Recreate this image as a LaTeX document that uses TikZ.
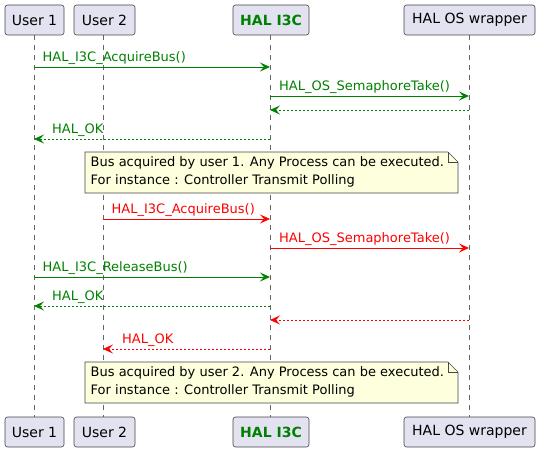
\documentclass[tikz,border=0pt]{standalone}
\usepackage{fontspec}
\setmainfont{DejaVu Sans}
\usetikzlibrary{arrows.meta}
\definecolor{pgreen}{HTML}{008000}
\definecolor{pred}{HTML}{FF0000}
\definecolor{pbox}{HTML}{E2E2F0}
\definecolor{pline}{HTML}{181818}
\definecolor{pnote}{HTML}{FEFFDD}
\begin{document}
\begin{tikzpicture}[x=1pt,y=-1pt,
  part/.style={draw=pline!80,fill=pbox,rounded corners=2.5pt,line width=0.6pt},
  ptxt/.style={font=\fontsize{14}{16}\selectfont,text=black},
  life/.style={draw=gray!80!black,dash pattern=on 5pt off 5pt,line width=0.6pt},
  msg/.style={line width=0.8pt,-{Stealth[length=10pt,width=9pt,inset=4pt]}},
  ret/.style={msg,dash pattern=on 2pt off 2pt},
  mlbl/.style={font=\fontsize{13}{15}\selectfont,anchor=base west,inner sep=0pt},
  notebox/.style={draw=pline!80,fill=pnote,line width=0.6pt},
  ntxt/.style={font=\fontsize{13}{18}\selectfont,align=left,anchor=north west,inner sep=0pt}]
\useasboundingbox (0,0) rectangle (538,452);
% lifelines
\coordinate (l1t) at (34,35);  \coordinate (l1b) at (34,417);
\coordinate (l2t) at (103,35); \coordinate (l2b) at (103,417);
\coordinate (l3t) at (270,35); \coordinate (l3b) at (270,417);
\coordinate (l4t) at (469,35); \coordinate (l4b) at (469,417);
\draw[life] (l1t) -- (l1b);
\draw[life] (l2t) -- (l2b);
\draw[life] (l3t) -- (l3b);
\draw[life] (l4t) -- (l4b);
% participants top
\draw[part] (5,5) rectangle (64,35);
\draw[part] (74,5) rectangle (135,35);
\draw[part] (233,5) rectangle (309,35);
\draw[part] (404,5) rectangle (535,35);
\node[ptxt] (u1) at (34.5,20) {User 1};
\node[ptxt] (u2) at (104.5,20) {User 2};
\node[ptxt,text=pgreen,font=\fontsize{14}{16}\selectfont\bfseries] (hi) at (271,20) {HAL I3C};
\node[ptxt] (ho) at (469.5,20) {HAL OS wrapper};
% participants bottom
\draw[part] (5,417) rectangle (64,447);
\draw[part] (74,417) rectangle (135,447);
\draw[part] (233,417) rectangle (309,447);
\draw[part] (404,417) rectangle (535,447);
\node[ptxt] (u1b) at (34.5,432) {User 1};
\node[ptxt] (u2b) at (104.5,432) {User 2};
\node[ptxt,text=pgreen,font=\fontsize{14}{16}\selectfont\bfseries] (hib) at (271,432) {HAL I3C};
\node[ptxt] (hob) at (469.5,432) {HAL OS wrapper};
% message endpoints
\foreach \n/\y in {a/67,b/96,c/110,d/139,e/219,f/248,g/277,h/306,i/320,j/349}{
  \coordinate (U1\n) at (34,\y);
  \coordinate (U2\n) at (103,\y);
  \coordinate (HI\n) at (270,\y);
  \coordinate (HO\n) at (469,\y);
}
% messages
\draw[msg,pgreen] (U1a) -- (HIa);
\node[mlbl,text=pgreen] (ma) at (42.5,61.5) {HAL\_I3C\_AcquireBus()};
\draw[msg,pgreen] (HIb) -- (HOb);
\node[mlbl,text=pgreen] (mb) at (279,90.5) {HAL\_OS\_SemaphoreTake()};
\draw[ret,pgreen] (HOc) -- (HIc);
\draw[ret,pgreen] (HId) -- (U1d);
\node[mlbl,text=pgreen] (md) at (52,133.5) {HAL\_OK};
% note 1
\draw[notebox] (85,152) -- (448,152) -- (458,162) -- (458,193) -- (85,193) -- cycle;
\draw[notebox,fill=none] (448,152) -- (448,162) -- (458,162);
\node[ntxt] (n1) at (90.5,156) {Bus acquired by user 1. Any Process can be executed.\\For instance : Controller Transmit Polling};
\draw[msg,pred] (U2e) -- (HIe);
\node[mlbl,text=pred] (me) at (111.5,213.5) {HAL\_I3C\_AcquireBus()};
\draw[msg,pred] (HIf) -- (HOf);
\node[mlbl,text=pred] (mf) at (279,242.5) {HAL\_OS\_SemaphoreTake()};
\draw[msg,pgreen] (U1g) -- (HIg);
\node[mlbl,text=pgreen] (mg) at (42.5,271.5) {HAL\_I3C\_ReleaseBus()};
\draw[ret,pgreen] (HIh) -- (U1h);
\node[mlbl,text=pgreen] (mh) at (52,300.5) {HAL\_OK};
\draw[ret,pred] (HOi) -- (HIi);
\draw[ret,pred] (HIj) -- (U2j);
\node[mlbl,text=pred] (mj) at (122,343.5) {HAL\_OK};
% note 2
\draw[notebox] (85,362) -- (448,362) -- (458,372) -- (458,403) -- (85,403) -- cycle;
\draw[notebox,fill=none] (448,362) -- (448,372) -- (458,372);
\node[ntxt] (n2) at (90.5,366) {Bus acquired by user 2. Any Process can be executed.\\For instance : Controller Transmit Polling};
\end{tikzpicture}
\end{document}
